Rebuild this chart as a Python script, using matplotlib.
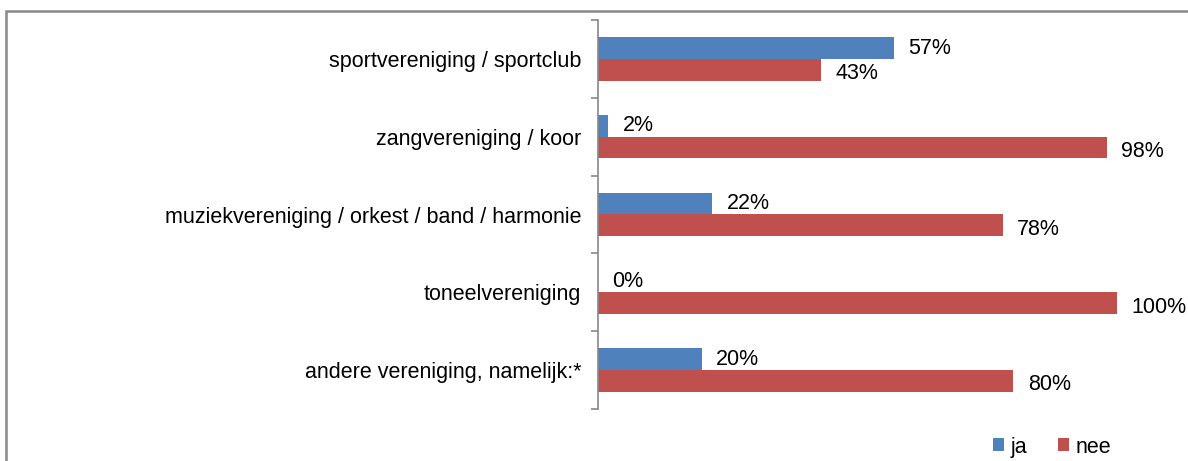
import numpy as np
import matplotlib

matplotlib.use("Agg")
import matplotlib.pyplot as plt
from matplotlib.patches import Rectangle

plt.rcParams["font.family"] = ["Liberation Sans", "DejaVu Sans"]

categories = [
    "sportvereniging / sportclub",
    "zangvereniging / koor",
    "muziekvereniging / orkest / band / harmonie",
    "toneelvereniging",
    "andere vereniging, namelijk:*",
]
ja = [57, 2, 22, 0, 20]
nee = [43, 98, 78, 100, 80]

blue = "#4F81BD"
red = "#C0504D"
fs = 15.5

W, H = 1188, 461
fig = plt.figure(figsize=(W / 100, H / 100), dpi=100)
ax = fig.add_axes([598 / W, 1 - 409 / H, (1117 - 598) / W, (409 - 20) / H])

N = len(categories)
y = np.arange(N)
h = 0.28
ax.barh(y - h / 2, ja, h, color=blue, label="ja")
ax.barh(y + h / 2, nee, h, color=red, label="nee")

for i in range(N):
    ax.text(ja[i] + 2.8, y[i] - h / 2, f"{ja[i]}%", va="center", ha="left", fontsize=fs)
    ax.text(nee[i] + 2.8, y[i] + h / 2 + 0.05, f"{nee[i]}%", va="center", ha="left",
            fontsize=fs, clip_on=False)

ax.set_xlim(0, 100)
ax.set_ylim(N - 0.5, -0.5)
ax.set_yticks(y)
ax.set_yticklabels(categories, fontsize=fs)
ax.set_yticks(np.arange(N + 1) - 0.5, minor=True)
ax.tick_params(axis="y", which="major", length=0, pad=12)
ax.tick_params(axis="y", which="minor", length=5, width=1.2, color="#888888")
ax.set_xticks([])
for s in ["top", "right", "bottom"]:
    ax.spines[s].set_visible(False)
ax.spines["left"].set_color("#888888")
ax.spines["left"].set_linewidth(1.2)

fig.legend(loc="center", bbox_to_anchor=(1052 / W, 1 - 447 / H), ncol=2, frameon=False,
           fontsize=fs, handlelength=0.55, handleheight=0.55, handletextpad=0.3,
           columnspacing=1.4)

fig.patches.append(Rectangle((6 / W, -0.1), 1.2, (1 - 11 / H) + 0.1, transform=fig.transFigure,
                             fill=False, edgecolor="#888888", linewidth=1.8))

fig.savefig("out.png", dpi=100)
